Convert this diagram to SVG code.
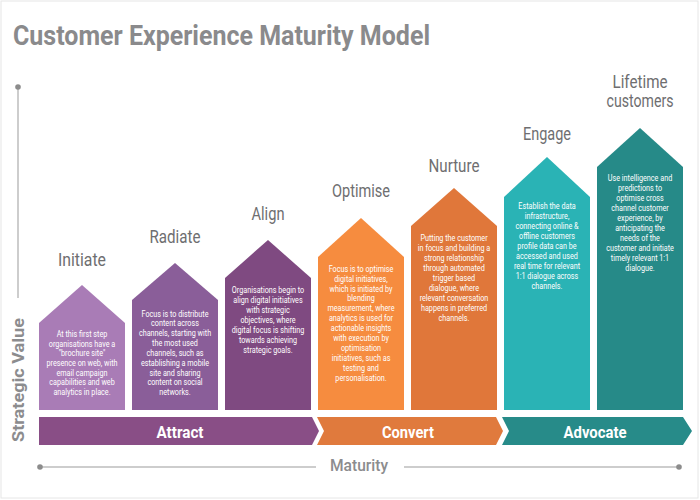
<svg xmlns="http://www.w3.org/2000/svg" width="700" height="500" viewBox="0 0 700 500">
<style>
.title{font-family:Roboto,"Liberation Sans",sans-serif;font-weight:bold;font-size:28px;fill:#8a8a8c}
.label{font-family:Roboto,"Liberation Sans",sans-serif;font-size:18px;fill:#6e6e70;text-anchor:middle}
.body{font-family:Roboto,"Liberation Sans",sans-serif;font-size:8.5px;fill:#ffffff;text-anchor:middle}
.bar{font-family:Roboto,"Liberation Sans",sans-serif;font-weight:bold;font-size:17px;fill:#ffffff;text-anchor:middle}
.axis{stroke:#bdbdbd;stroke-width:1.5;fill:none}
.dot{fill:#8c8c8c}
.axlabel{font-family:Roboto,"Liberation Sans",sans-serif;font-weight:bold;font-size:16px;fill:#8c8c8e;text-anchor:middle}
</style>
<rect x="1" y="1" width="697" height="497" fill="#ffffff" stroke="#e6e6e6" stroke-width="1"/>
<text class="title" x="13" y="45" textLength="417" lengthAdjust="spacingAndGlyphs">Customer Experience Maturity Model</text>

<g id="connectors">
  <line class="axis" x1="18" y1="87" x2="18" y2="298"/>
  <circle class="dot" cx="18" cy="87" r="2.8"/>
  <line class="axis" x1="40" y1="467" x2="316" y2="467"/>
  <line class="axis" x1="404" y1="467" x2="679" y2="467"/>
  <circle class="dot" cx="40" cy="467" r="2.8"/>
  <circle class="dot" cx="679" cy="467" r="2.8"/>
</g>

<g id="axis-labels">
  <text class="axlabel" transform="translate(24 380) rotate(-90)" x="0" y="0" textLength="124" lengthAdjust="spacingAndGlyphs">Strategic Value</text>
  <text class="axlabel" x="359" y="471" style="font-weight:500;font-size:17px" textLength="58" lengthAdjust="spacingAndGlyphs">Maturity</text>
</g>

<g id="initiate">
  <polygon fill="#a97cb6" points="39,410 39,323 82,285 125,323 125,410"/>
  <text class="label" x="82" y="266" textLength="48" lengthAdjust="spacingAndGlyphs">Initiate</text>
  <g transform="translate(82 0) scale(0.85 1)">
    <text class="body"><tspan x="0" y="337">At this first step</tspan><tspan x="0" y="347">organisations have a</tspan><tspan x="0" y="356.5">"brochure site"</tspan><tspan x="0" y="366">presence on web, with</tspan><tspan x="0" y="376">email campaign</tspan><tspan x="0" y="385.5">capabilities and web</tspan><tspan x="0" y="395">analytics in place.</tspan></text>
  </g>
</g>

<g id="radiate">
  <polygon fill="#8a5e99" points="132,410 132,300 175,263 218,300 218,410"/>
  <text class="label" x="175" y="243" textLength="51" lengthAdjust="spacingAndGlyphs">Radiate</text>
  <g transform="translate(175 0) scale(0.85 1)">
    <text class="body"><tspan x="0" y="317">Focus is to distribute</tspan><tspan x="0" y="326.5">content across</tspan><tspan x="0" y="336">channels, starting with</tspan><tspan x="0" y="346">the most used</tspan><tspan x="0" y="356">channels, such as</tspan><tspan x="0" y="366">establishing a mobile</tspan><tspan x="0" y="376">site and sharing</tspan><tspan x="0" y="385.5">content on social</tspan><tspan x="0" y="395">networks.</tspan></text>
  </g>
</g>

<g id="align">
  <polygon fill="#7f4a81" points="225,410 225,278 268,240 311,278 311,410"/>
  <text class="label" x="268" y="220" textLength="33" lengthAdjust="spacingAndGlyphs">Align</text>
  <g transform="translate(268 0) scale(0.85 1)">
    <text class="body"><tspan x="0" y="293">Organisations begin to</tspan><tspan x="0" y="303">align digital initiatives</tspan><tspan x="0" y="313">with strategic</tspan><tspan x="0" y="323">objectives, where</tspan><tspan x="0" y="333">digital focus is shifting</tspan><tspan x="0" y="343">towards achieving</tspan><tspan x="0" y="353">strategic goals.</tspan></text>
  </g>
</g>

<g id="optimise">
  <polygon fill="#f68c3f" points="318,410 318,257 361,218 404,257 404,410"/>
  <text class="label" x="361" y="197" textLength="58" lengthAdjust="spacingAndGlyphs">Optimise</text>
  <g transform="translate(361 0) scale(0.85 1)">
    <text class="body"><tspan x="0" y="272">Focus is to optimise</tspan><tspan x="0" y="282">digital initiatives,</tspan><tspan x="0" y="292">which is initiated by</tspan><tspan x="0" y="301.5">blending</tspan><tspan x="0" y="311">measurement, where</tspan><tspan x="0" y="321">analytics is used for</tspan><tspan x="0" y="331">actionable insights</tspan><tspan x="0" y="341">with execution by</tspan><tspan x="0" y="351">optimisation</tspan><tspan x="0" y="361">initiatives, such as</tspan><tspan x="0" y="371">testing and</tspan><tspan x="0" y="381">personalisation.</tspan></text>
  </g>
</g>

<g id="nurture">
  <polygon fill="#e0773a" points="411,410 411,226 454,188 497,226 497,410"/>
  <text class="label" x="454" y="172" textLength="51" lengthAdjust="spacingAndGlyphs">Nurture</text>
  <g transform="translate(454 0) scale(0.85 1)">
    <text class="body"><tspan x="0" y="241">Putting the customer</tspan><tspan x="0" y="251">in focus and building a</tspan><tspan x="0" y="261">strong relationship</tspan><tspan x="0" y="271">through automated</tspan><tspan x="0" y="281">trigger based</tspan><tspan x="0" y="291">dialogue, where</tspan><tspan x="0" y="301">relevant conversation</tspan><tspan x="0" y="311">happens in preferred</tspan><tspan x="0" y="321">channels.</tspan></text>
  </g>
</g>

<g id="engage">
  <polygon fill="#2ab3b5" points="504,410 504,197 547,157 590,197 590,410"/>
  <text class="label" x="547" y="140" textLength="48" lengthAdjust="spacingAndGlyphs">Engage</text>
  <g transform="translate(547 0) scale(0.85 1)">
    <text class="body"><tspan x="0" y="209">Establish the data</tspan><tspan x="0" y="219">infrastructure,</tspan><tspan x="0" y="229">connecting online &amp;</tspan><tspan x="0" y="239">offline customers</tspan><tspan x="0" y="249">profile data can be</tspan><tspan x="0" y="259">accessed and used</tspan><tspan x="0" y="269">real time for relevant</tspan><tspan x="0" y="279">1:1 dialogue across</tspan><tspan x="0" y="289">channels.</tspan></text>
  </g>
</g>

<g id="lifetime">
  <polygon fill="#268a88" points="597,410 597,167 640,128 683,167 683,410"/>
  <text class="label" x="640" y="88" textLength="55" lengthAdjust="spacingAndGlyphs">Lifetime</text>
  <text class="label" x="640" y="107" textLength="67" lengthAdjust="spacingAndGlyphs">customers</text>
  <g transform="translate(640 0) scale(0.85 1)">
    <text class="body"><tspan x="0" y="181">Use intelligence and</tspan><tspan x="0" y="191">predictions to</tspan><tspan x="0" y="201">optimise cross</tspan><tspan x="0" y="211">channel customer</tspan><tspan x="0" y="221">experience, by</tspan><tspan x="0" y="231">anticipating the</tspan><tspan x="0" y="241">needs of the</tspan><tspan x="0" y="251">customer and initiate</tspan><tspan x="0" y="261">timely relevant 1:1</tspan><tspan x="0" y="271">dialogue.</tspan></text>
  </g>
</g>

<g id="attract">
  <polygon fill="#894e86" points="39,417 312,417 319,431 312,445 39,445"/>
  <text class="bar" x="180" y="438" textLength="47" lengthAdjust="spacingAndGlyphs">Attract</text>
</g>
<g id="convert">
  <polygon fill="#e07a3d" points="317,417 496,417 503,431 496,445 317,445 324,431"/>
  <text class="bar" x="408" y="438" textLength="52" lengthAdjust="spacingAndGlyphs">Convert</text>
</g>
<g id="advocate">
  <polygon fill="#278b89" points="502,417 683,417 692,431 683,445 502,445 509,431"/>
  <text class="bar" x="595" y="438" textLength="63" lengthAdjust="spacingAndGlyphs">Advocate</text>
</g>
</svg>
